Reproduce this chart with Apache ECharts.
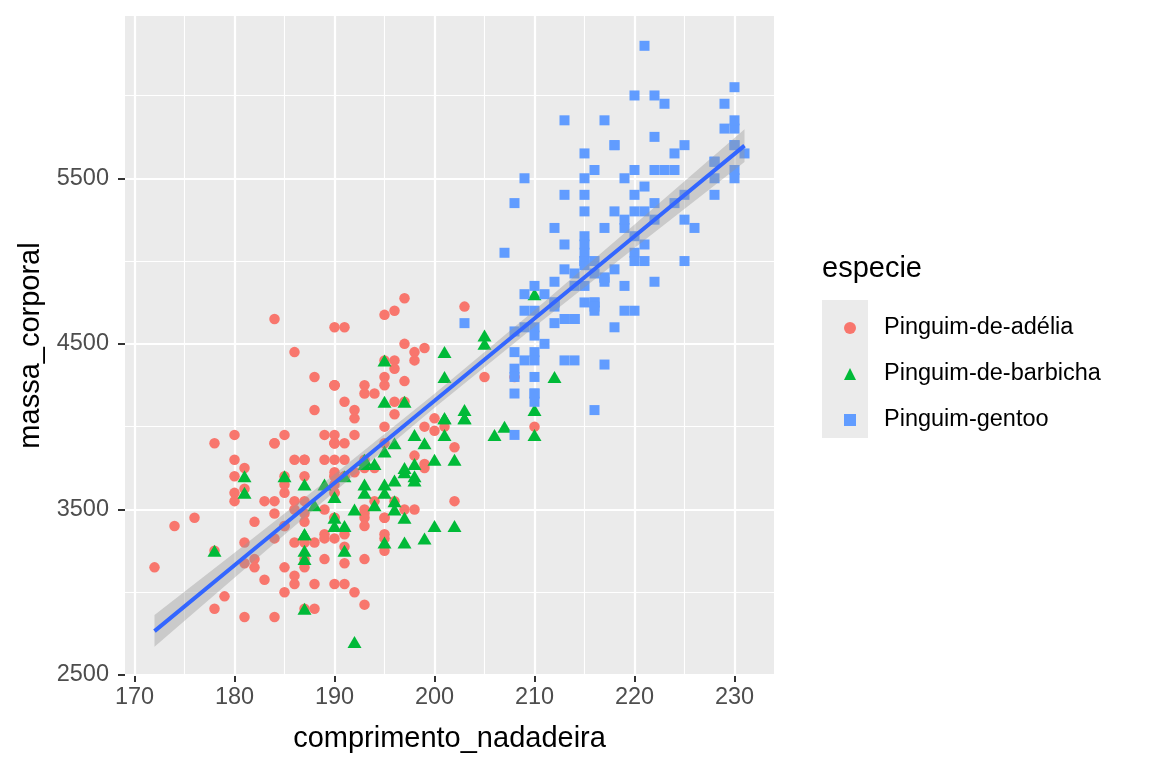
<!DOCTYPE html>
<html>
<head>
<meta charset="utf-8">
<script src="https://cdn.jsdelivr.net/npm/echarts@6/dist/echarts.min.js"></script>
<style>
  html, body { margin: 0; padding: 0; background: #fff; }
  #chart { width: 1152px; height: 768px; }
</style>
</head>
<body>
<div id="chart"></div>
<script>
// comprimento da nadadeira (mm) e massa corporal (g) por espécie
const adelieFlipper = [
  181,186,195,193,190,181,195,193,190,186, 180,182,191,198,185,195,197,184,194,174,
  180,189,185,180,187,183,187,172,180,178, 178,188,184,195,196,190,180,181,184,182,
  195,186,196,185,190,182,179,190,191,186, 188,190,200,187,191,186,193,181,194,185,
  195,185,192,184,192,195,188,190,198,190, 190,196,197,190,195,191,184,187,195,189,
  196,187,193,191,194,190,189,189,190,202, 205,185,186,187,208,190,196,178,192,192,
  203,183,190,193,184,199,190,181,197,198, 191,193,197,191,196,188,199,189,189,187,
  198,176,202,186,199,191,195,191,210,190, 197,193,199,187,190,191,200,185,193,193,
  187,188,190,192,185,190,184,195,193,187, 201
];
const adelieMass = [
  3750,3800,3250,3450,3650,3625,4675,3475,4250,3300, 3700,3200,3800,4400,3700,3450,4500,3325,4200,3400,
  3600,3800,3950,3800,3800,3550,3200,3150,3950,3250, 3900,3300,3900,3325,4150,3950,3550,3300,4650,3150,
  3900,3100,4400,3000,4600,3425,2975,3450,4150,3500, 4300,3450,4050,2900,3700,3550,3800,2850,3750,3150,
  4400,3600,4050,2850,3950,3350,4100,3050,4450,3600, 3900,3550,4150,3700,4250,3700,3900,3550,4000,3200,
  4700,3800,4200,3350,3550,3800,3500,3950,3600,3550, 4300,3400,4450,3300,4300,3700,4350,2900,4100,3725,
  4725,3075,4250,2925,3550,3750,3900,3175,4775,3825, 4600,3200,4275,3900,4075,2900,3775,3350,3325,3150,
  3500,3450,3875,3050,4000,3275,4300,3050,4000,3325, 3500,3500,4475,3425,3900,3175,3975,3400,4250,3400,
  3475,3050,3725,3000,3650,4250,3475,3450,3750,3700, 4000
];
const chinstrapFlipper = [
  192,196,193,188,197,198,178,197,195,198, 193,194,185,201,190,201,197,181,190,195,
  181,191,187,193,195,197,200,200,191,205, 187,201,187,203,195,199,195,210,192,205,
  210,187,196,196,196,201,190,212,187,198, 199,201,193,203,187,197,191,203,202,194,
  206,189,195,207,202,193,210,198
];
const chinstrapMass = [
  3500,3900,3650,3525,3725,3950,3250,3750,4150,3700, 3800,3775,3700,4050,3575,4050,3300,3700,3450,4400,
  3600,3400,2900,3800,3300,4150,3400,3800,3700,4550, 3200,4300,3350,4100,3600,3900,3850,4800,2700,4500,
  3950,3650,3550,3500,3675,4450,3400,4300,3250,3675, 3325,3950,3600,4050,3350,3450,3250,4050,3800,3525,
  3950,3650,3650,4000,3400,3775,4100,3775
];
const gentooFlipper = [
  211,230,210,218,215,210,211,219,209,215, 214,216,214,213,210,217,210,221,209,222,
  218,215,213,215,215,215,216,215,210,220, 222,209,207,230,220,220,213,219,208,208,
  208,225,210,216,222,217,210,225,213,215, 210,220,210,225,217,220,208,220,208,224,
  208,221,214,231,219,230,214,229,220,223, 216,221,221,217,216,230,209,220,215,223,
  212,221,212,224,212,228,218,218,212,230, 218,228,212,224,214,226,216,222,203,225,
  219,228,215,228,216,215,210,219,208,209, 216,229,213,230,217,230,217,222,214,215,
  222,212,213
];
const gentooMass = [
  4500,5700,4450,5700,5400,4550,4800,5200,4400,5150, 4650,5550,4650,5850,4200,5850,4150,6300,4800,5350,
  5700,5000,4400,5050,5000,5100,4100,5650,4600,5550, 5250,4700,5050,6050,5150,5400,4950,5250,4350,5350,
  3950,5700,4300,4750,5550,4900,4200,5400,5100,5300, 4850,5300,4400,5000,4900,5050,4300,5000,4450,5550,
  4200,5300,4400,5650,4700,5700,4650,5800,4700,5550, 4750,5000,5100,5200,4700,5800,4600,6000,4750,5950,
  4625,5450,4725,5350,4750,5600,4600,5300,4875,5550, 4950,5400,4750,5650,4850,5200,4925,4875,4625,5250,
  4850,5600,4975,5500,4725,5500,4700,5500,4575,5500, 5000,5950,4650,5500,4375,5850,4875,6000,4925,4850,
  5750,5200,5400
];

// reta de regressão e faixa de confiança
const fitX = [172, 180, 190, 200, 210, 220, 231];
const fitY = [2765, 3163, 3660, 4156, 4653, 5150, 5697];
const bandLower = [2670, 3088, 3607, 4114, 4603, 5079, 5598];
const bandUpper = [2862, 3238, 3713, 4198, 4703, 5221, 5796];

const xTicks = [170, 180, 190, 200, 210, 220, 230];
const xMinor = [175, 185, 195, 205, 215, 225];
const yTicks = [2500, 3500, 4500, 5500];
const yMinor = [3000, 4000, 5000, 6000];

const speciesNames = ['Pinguim-de-adélia', 'Pinguim-de-barbicha', 'Pinguim-gentoo'];

const pairs = (xs, ys) => xs.map((x, i) => [x, ys[i]]);

const FONT = '"Liberation Sans", Arial, Helvetica, sans-serif';

const chart = echarts.init(document.getElementById('chart'));

// linhas de grade do painel (principais e secundárias)
const gridLines = [
  ...xTicks.map(v => ({ xAxis: v, lineStyle: { width: 2.2 } })),
  ...xMinor.map(v => ({ xAxis: v, lineStyle: { width: 1.1 } })),
  ...yTicks.map(v => ({ yAxis: v, lineStyle: { width: 2.2 } })),
  ...yMinor.map(v => ({ yAxis: v, lineStyle: { width: 1.1 } }))
];

const option = {
  animation: false,
  backgroundColor: '#ffffff',
  textStyle: { fontFamily: FONT },
  grid: {
    left: 125, right: 378, top: 16, bottom: 93,
    show: true, backgroundColor: '#EBEBEB', borderWidth: 0
  },
  xAxis: {
    type: 'value',
    min: 169.05, max: 233.95,
    name: 'comprimento_nadadeira',
    nameLocation: 'middle',
    nameGap: 49,
    nameTextStyle: { fontSize: 29, color: '#000', fontFamily: FONT },
    axisLine: { show: false },
    axisTick: { show: true, length: 7, customValues: xTicks, lineStyle: { color: '#333', width: 2 } },
    axisLabel: {
      customValues: xTicks, fontSize: 23.5, color: '#4D4D4D', margin: 11, fontFamily: FONT,
      formatter: v => String(v)
    },
    splitLine: { show: false }
  },
  yAxis: {
    type: 'value',
    min: 2500, max: 6480,
    name: 'massa_corporal',
    nameLocation: 'middle',
    nameGap: 78,
    nameTextStyle: { fontSize: 29, color: '#000', fontFamily: FONT },
    axisLine: { show: false },
    axisTick: { show: true, length: 7, customValues: yTicks, lineStyle: { color: '#333', width: 2 } },
    axisLabel: {
      customValues: yTicks, fontSize: 23.5, color: '#4D4D4D', margin: 16, fontFamily: FONT,
      formatter: v => String(v)
    },
    splitLine: { show: false }
  },
  legend: {
    orient: 'vertical',
    left: 839, top: 300,
    itemWidth: 12, itemHeight: 12,
    itemGap: 0,
    data: speciesNames,
    textStyle: { fontSize: 23.5, color: '#000', lineHeight: 46, padding: [0, 0, 0, 23], fontFamily: FONT }
  },
  graphic: [
    { type: 'rect', left: 822, top: 300, shape: { width: 46, height: 138 }, style: { fill: '#EBEBEB' }, z: -1 },
    { type: 'text', left: 822, top: 254, style: { text: 'especie', fontSize: 29, fill: '#000', font: '29px ' + FONT } }
  ],
  series: [
    {
      name: 'grid', type: 'scatter', data: [], z: 1, silent: true,
      markLine: {
        z: 1, silent: true, symbol: ['none', 'none'], label: { show: false },
        lineStyle: { color: '#ffffff', type: 'solid' },
        data: gridLines
      }
    },
    {
      name: speciesNames[0], type: 'scatter', z: 2,
      symbol: 'circle', symbolSize: 10.5,
      itemStyle: { color: '#F8766D', opacity: 1 },
      data: pairs(adelieFlipper, adelieMass)
    },
    {
      name: speciesNames[1], type: 'scatter', z: 2,
      symbol: 'triangle', symbolSize: [14, 12],
      itemStyle: { color: '#00BA38', opacity: 1 },
      data: pairs(chinstrapFlipper, chinstrapMass)
    },
    {
      name: speciesNames[2], type: 'scatter', z: 2,
      symbol: 'rect', symbolSize: 10,
      itemStyle: { color: '#619CFF', opacity: 1 },
      data: pairs(gentooFlipper, gentooMass)
    },
    {
      name: 'faixa', type: 'custom', z: 3, silent: true,
      data: [[fitX[0], fitY[0]]],
      renderItem: (params, api) => {
        const upper = fitX.map((x, i) => api.coord([x, bandUpper[i]]));
        const lower = fitX.map((x, i) => api.coord([x, bandLower[i]])).reverse();
        return {
          type: 'polygon',
          shape: { points: upper.concat(lower) },
          style: { fill: 'rgba(153,153,153,0.4)' }
        };
      }
    },
    {
      name: 'reta', type: 'line', z: 4, silent: true,
      showSymbol: false, symbol: 'none',
      lineStyle: { color: '#3366FF', width: 4 },
      data: pairs(fitX, fitY)
    }
  ]
};

chart.setOption(option);
</script>
</body>
</html>
